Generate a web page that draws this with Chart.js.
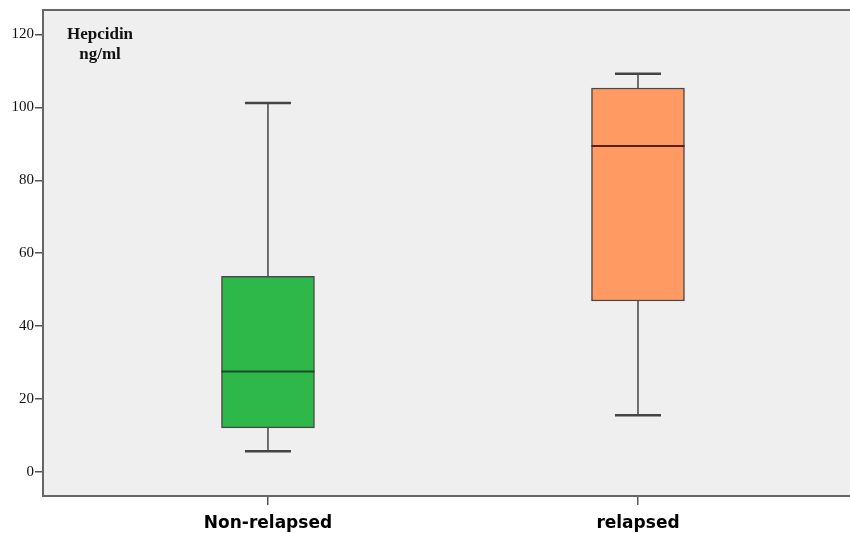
<!DOCTYPE html>
<html>
<head>
<meta charset="utf-8">
<script src="https://cdn.jsdelivr.net/npm/chart.js@4.4.0/dist/chart.umd.min.js"></script>
<style>
html,body{margin:0;padding:0;background:#fff;}
#wrap{width:850px;height:533px;}
</style>
</head>
<body>
<div id="wrap"><canvas id="c" width="850" height="533"></canvas></div>
<script>
const categories = ["Non-relapsed", "relapsed"];
const minVals    = [5.7, 15.6];
const q1Vals     = [12.1, 46.9];
const medianVals = [27.6, 89.4];
const q3Vals     = [53.7, 105.3];
const maxVals    = [101.2, 109.2];
const yTicks     = [0, 20, 40, 60, 80, 100, 120];
const boxColors  = ["#2fb84a", "#ff9a62"];
const medianColors = ["#1c4a22", "#5a2010"];
const yTitle = ["Hepcidin", "ng/ml"];

const boxData = categories.map((c, i) => ({ x: i + 1, y: [q1Vals[i], q3Vals[i]] }));

const framePlugin = {
  id: 'frame',
  beforeDraw(chart) {
    const { ctx, chartArea: a } = chart;
    ctx.save();
    ctx.fillStyle = '#efefef';
    ctx.fillRect(a.left, a.top, a.right - a.left, a.bottom - a.top);
    ctx.restore();
  },
  afterDraw(chart) {
    const { ctx, chartArea: a } = chart;
    ctx.save();
    ctx.strokeStyle = '#666';
    ctx.lineWidth = 2;
    ctx.beginPath();
    ctx.moveTo(a.left, a.top);
    ctx.lineTo(a.right, a.top);
    ctx.stroke();
    ctx.fillStyle = '#111';
    ctx.font = 'bold 17px "Liberation Serif", serif';
    ctx.textAlign = 'center';
    ctx.textBaseline = 'alphabetic';
    ctx.fillText(yTitle[0], 100, 39);
    ctx.fillText(yTitle[1], 100, 59);
    ctx.restore();
  }
};

const whiskerPlugin = {
  id: 'whiskers',
  beforeDatasetsDraw(chart) {
    const { ctx, scales: { x, y } } = chart;
    ctx.save();
    ctx.strokeStyle = '#444';
    categories.forEach((c, i) => {
      const cx = x.getPixelForValue(i + 1);
      const capHalf = 23;
      [[maxVals[i], q3Vals[i]], [minVals[i], q1Vals[i]]].forEach(([end, edge]) => {
        const ye = y.getPixelForValue(end), yb = y.getPixelForValue(edge);
        ctx.lineWidth = 1.5;
        ctx.beginPath();
        ctx.moveTo(cx, yb); ctx.lineTo(cx, ye);
        ctx.stroke();
        ctx.lineWidth = 2.5;
        ctx.beginPath();
        ctx.moveTo(cx - capHalf, ye); ctx.lineTo(cx + capHalf, ye);
        ctx.stroke();
      });
    });
    ctx.restore();
  },
  afterDatasetsDraw(chart) {
    const { ctx, scales: { y } } = chart;
    const meta = chart.getDatasetMeta(0);
    ctx.save();
    ctx.lineWidth = 2;
    categories.forEach((c, i) => {
      const bar = meta.data[i];
      const half = bar.width / 2;
      const cx = bar.x;
      const ym = y.getPixelForValue(medianVals[i]);
      ctx.strokeStyle = medianColors[i];
      ctx.beginPath();
      ctx.moveTo(cx - half, ym); ctx.lineTo(cx + half, ym);
      ctx.stroke();
    });
    ctx.restore();
  }
};

new Chart(document.getElementById('c'), {
  type: 'bar',
  data: {
    datasets: [{
      data: boxData,
      backgroundColor: boxColors,
      borderColor: '#4a4a4a',
      borderWidth: 1.5,
      borderSkipped: false,
      barThickness: 93
    }]
  },
  options: {
    responsive: false,
    animation: false,
    layout: { padding: { top: 9, right: 0, left: 0, bottom: 0 } },
    plugins: { legend: { display: false }, tooltip: { enabled: false } },
    scales: {
      x: {
        type: 'linear',
        offset: false,
        min: 0.392,
        max: 2.573,
        afterBuildTicks(scale) { scale.ticks = categories.map((c, i) => ({ value: i + 1 })); },
        afterFit(scale) { scale.height = 37; },
        ticks: {
          callback: (v) => categories[v - 1],
          color: '#000',
          font: { family: '"DejaVu Sans", sans-serif', weight: 'bold', size: 17 },
          padding: 8,
          maxRotation: 0,
          autoSkip: false
        },
        grid: { offset: false, drawOnChartArea: false, drawTicks: true, tickLength: 9, color: '#555', lineWidth: 1.5 },
        border: { display: true, color: '#666', width: 2 }
      },
      y: {
        type: 'linear',
        min: -6.57,
        max: 126.7,
        afterBuildTicks(scale) { scale.ticks = yTicks.map(v => ({ value: v })); },
        afterFit(scale) { scale.width = 43; },
        ticks: {
          color: '#111',
          font: { family: '"Liberation Serif", serif', size: 15 },
          padding: 1
        },
        grid: { drawOnChartArea: false, drawTicks: true, tickLength: 8, color: '#555', lineWidth: 1.5 },
        border: { display: true, color: '#666', width: 2 }
      }
    }
  },
  plugins: [framePlugin, whiskerPlugin]
});
</script>
</body>
</html>
